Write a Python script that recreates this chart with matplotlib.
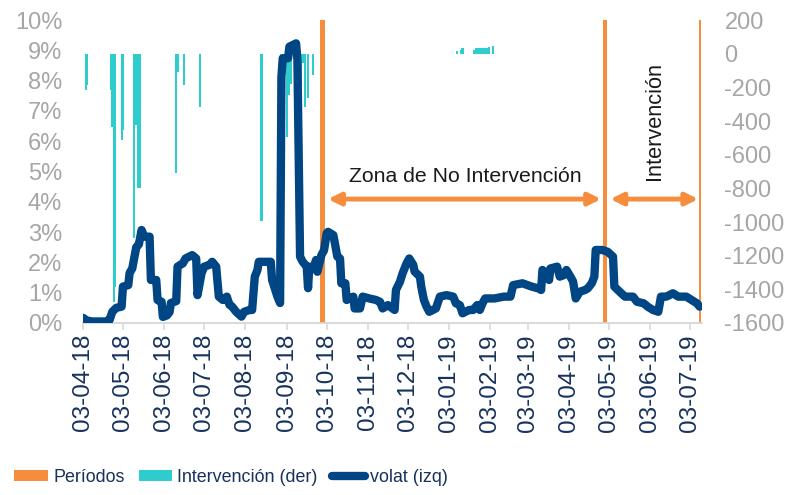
import numpy as np
import pandas as pd
import matplotlib
matplotlib.use("Agg")
from matplotlib import pyplot as plt
import matplotlib.dates as mdates
from matplotlib.patches import Patch
from matplotlib.lines import Line2D

plt.rcParams['font.family'] = ['Liberation Sans', 'DejaVu Sans']
plt.rcParams['axes.unicode_minus'] = False

# volatilidad (eje izquierdo, %)
vol_dates = ['2018-04-03', '2018-04-06', '2018-04-10', '2018-04-20', '2018-04-23', '2018-04-25',
             '2018-04-28', '2018-05-02', '2018-05-03', '2018-05-07', '2018-05-08', '2018-05-10',
             '2018-05-13', '2018-05-15', '2018-05-17', '2018-05-19', '2018-05-23', '2018-05-24',
             '2018-05-28', '2018-05-29', '2018-06-01', '2018-06-02', '2018-06-05', '2018-06-07',
             '2018-06-08', '2018-06-12', '2018-06-13', '2018-06-17', '2018-06-19', '2018-06-24',
             '2018-06-27', '2018-06-28', '2018-07-01', '2018-07-03', '2018-07-07', '2018-07-09',
             '2018-07-12', '2018-07-14', '2018-07-17', '2018-07-20', '2018-07-22', '2018-07-24',
             '2018-07-27', '2018-07-31', '2018-08-02', '2018-08-06', '2018-08-08', '2018-08-10',
             '2018-08-12', '2018-08-13', '2018-08-22', '2018-08-23', '2018-08-27', '2018-08-29',
             '2018-08-30', '2018-08-31', '2018-09-04', '2018-09-05', '2018-09-10', '2018-09-11',
             '2018-09-13', '2018-09-15', '2018-09-18', '2018-09-19', '2018-09-20', '2018-09-23',
             '2018-09-25', '2018-09-26', '2018-09-29', '2018-10-01', '2018-10-03', '2018-10-04',
             '2018-10-08', '2018-10-11', '2018-10-13', '2018-10-14', '2018-10-17', '2018-10-18',
             '2018-10-23', '2018-10-24', '2018-10-28', '2018-10-30', '2018-11-04', '2018-11-09',
             '2018-11-12', '2018-11-14', '2018-11-18', '2018-11-23', '2018-11-24', '2018-11-27',
             '2018-11-29', '2018-12-02', '2018-12-04', '2018-12-07', '2018-12-08', '2018-12-12',
             '2018-12-13', '2018-12-15', '2018-12-17', '2018-12-19', '2018-12-24', '2018-12-27',
             '2019-01-01', '2019-01-06', '2019-01-08', '2019-01-11', '2019-01-13', '2019-01-18',
             '2019-01-21', '2019-01-24', '2019-01-26', '2019-01-28', '2019-01-30', '2019-02-06',
             '2019-02-13', '2019-02-18', '2019-02-20', '2019-02-27', '2019-03-06', '2019-03-11',
             '2019-03-13', '2019-03-14', '2019-03-17', '2019-03-19', '2019-03-20', '2019-03-25',
             '2019-03-27', '2019-03-30', '2019-04-01', '2019-04-04', '2019-04-06', '2019-04-08',
             '2019-04-11', '2019-04-15', '2019-04-17', '2019-04-20', '2019-04-22', '2019-04-23',
             '2019-04-28', '2019-05-02', '2019-05-06', '2019-05-07', '2019-05-11', '2019-05-15',
             '2019-05-21', '2019-05-24', '2019-05-29', '2019-06-01', '2019-06-05', '2019-06-09',
             '2019-06-11', '2019-06-15', '2019-06-20', '2019-06-24', '2019-06-30', '2019-07-04',
             '2019-07-08', '2019-07-10']
vol_values = [0.17, 0.08, 0.05, 0.05, 0.10, 0.37,
              0.50, 0.54, 1.20, 1.25, 1.65, 1.80,
              2.50, 2.60, 3.07, 2.85, 2.85, 1.42,
              1.42, 0.76, 0.70, 0.20, 0.25, 0.36,
              0.66, 0.72, 1.86, 1.97, 2.13, 2.24,
              2.13, 0.92, 1.64, 1.86, 1.92, 2.02,
              1.86, 0.87, 0.76, 0.87, 0.60, 0.54,
              0.37, 0.21, 0.37, 0.43, 0.43, 1.53,
              1.75, 2.02, 2.02, 1.42, 0.87, 0.66,
              8.13, 8.74, 8.74, 9.12, 9.23, 8.70,
              2.19, 2.02, 1.86, 1.15, 1.86, 1.80,
              2.08, 1.69, 2.24, 2.40, 2.96, 3.01,
              2.90, 2.19, 2.13, 1.31, 1.31, 0.76,
              0.87, 0.48, 0.48, 0.87, 0.81, 0.76,
              0.70, 0.48, 0.59, 0.43, 1.09, 1.36,
              1.64, 1.97, 2.13, 1.92, 1.70, 1.53,
              1.20, 0.76, 0.54, 0.37, 0.48, 0.87,
              0.92, 0.87, 0.65, 0.59, 0.32, 0.43,
              0.43, 0.59, 0.43, 0.65, 0.81, 0.81,
              0.87, 0.87, 1.25, 1.31, 1.20, 1.14,
              1.09, 1.75, 1.64, 1.42, 1.80, 1.86,
              1.53, 1.58, 1.75, 1.53, 1.37, 0.81,
              1.03, 1.09, 1.14, 1.31, 1.53, 2.41,
              2.41, 2.35, 2.19, 1.20, 1.03, 0.87,
              0.87, 0.70, 0.65, 0.54, 0.43, 0.37,
              0.87, 0.87, 0.98, 0.87, 0.87, 0.76,
              0.65, 0.54]

# intervencion (eje derecho)
int_dates = ['2018-04-05', '2018-04-06', '2018-04-24', '2018-04-25', '2018-04-26', '2018-04-27',
             '2018-05-02', '2018-05-03', '2018-05-11', '2018-05-13', '2018-05-14', '2018-05-15',
             '2018-05-16', '2018-06-12', '2018-06-13', '2018-06-18', '2018-06-30', '2018-08-15',
             '2018-08-30', '2018-09-03', '2018-09-05', '2018-09-06', '2018-09-13', '2018-09-14',
             '2018-09-15', '2018-09-17', '2018-09-19', '2018-09-23',
             '2019-01-09', '2019-01-12', '2019-01-13', '2019-01-22', '2019-01-23', '2019-01-24',
             '2019-01-25', '2019-01-26', '2019-01-27', '2019-01-28', '2019-01-29', '2019-01-30',
             '2019-01-31', '2019-02-02', '2019-02-05']
int_values = [-216, -186, -216, -434, -1473, -1384,
              -513, -453, -1097, -424, -798, -798,
              -798, -709, -107, -186, -315, -992,
              -120, -493, -245, -180, -285, -285,
              -55, -315, -264, -127,
              15, 20, 34, 25, 32, 32,
              32, 32, 32, 32, 35, 35,
              35, 42, 48]

# periodos
per_dates = ['2018-09-30', '2019-04-30', '2019-07-10']
per_values = [10, 10, 10]
per_widths = [4, 3.2, 1.6]

tick_dates = ['2018-04-03', '2018-05-03', '2018-06-03', '2018-07-03', '2018-08-03', '2018-09-03',
              '2018-10-03', '2018-11-03', '2018-12-03', '2019-01-03', '2019-02-03', '2019-03-03',
              '2019-04-03', '2019-05-03', '2019-06-03', '2019-07-03']

orange = '#F68D3C'
cyan = '#2ECCCC'
navy = '#004584'
txt_navy = '#17325C'
grey = '#A6A6A6'

fig = plt.figure(figsize=(7.98, 4.95), dpi=100)
ax = fig.add_axes([0.104, 0.3475, 0.776, 0.612])
ax2 = ax.twinx()
ax.set_zorder(ax2.get_zorder() + 1)
ax.patch.set_visible(False)

ax2.bar(pd.to_datetime(int_dates), int_values, width=1.6, color=cyan, linewidth=0, zorder=1)
ax.bar(pd.to_datetime(per_dates), per_values, width=per_widths, color=orange, linewidth=0, zorder=2)
ax.plot(pd.to_datetime(vol_dates), vol_values, color=navy, lw=6,
        solid_joinstyle='round', solid_capstyle='round', zorder=3)

ax.set_xlim(pd.Timestamp('2018-04-03'), pd.Timestamp('2019-07-12'))
ax.set_ylim(0, 10)
ax2.set_ylim(-1600, 200)
ax.set_yticks(np.arange(0, 11, 1))
ax.set_yticklabels(['%d%%' % v for v in range(0, 11)])
ax2.set_yticks(np.arange(-1600, 201, 200))

ticks = pd.to_datetime(tick_dates)
ax.set_xticks(ticks)
ax.xaxis.set_major_formatter(mdates.DateFormatter('%d-%m-%y'))
for lbl in ax.get_xticklabels():
    lbl.set_rotation(90)

for a in (ax, ax2):
    for s in ('top', 'left', 'right'):
        a.spines[s].set_visible(False)
    a.spines['bottom'].set_color('#D9D9D9')
    a.spines['bottom'].set_linewidth(1.2)

ax.tick_params(axis='x', colors='#D9D9D9', length=5, width=1.2, labelcolor=txt_navy,
               labelsize=17.5, pad=3)
ax.tick_params(axis='y', length=0, labelcolor=grey, labelsize=17, pad=15)
ax2.tick_params(axis='y', length=0, labelcolor=grey, labelsize=17, pad=16)

# flechas y textos
ax.annotate('', xy=(pd.Timestamp('2019-04-27'), 4.09), xytext=(pd.Timestamp('2018-10-04'), 4.09),
            arrowprops=dict(arrowstyle='<|-|>', color=orange, lw=3.5, mutation_scale=18,
                            shrinkA=0, shrinkB=0))
ax.annotate('', xy=(pd.Timestamp('2019-07-09'), 4.09), xytext=(pd.Timestamp('2019-05-04'), 4.09),
            arrowprops=dict(arrowstyle='<|-|>', color=orange, lw=3.5, mutation_scale=18,
                            shrinkA=0, shrinkB=0))
ax.text(pd.Timestamp('2019-01-15'), 4.82, 'Zona de No Intervención', ha='center', va='center',
        fontsize=15.3, color='#1A1A1A')
ax.text(pd.Timestamp('2019-06-06'), 6.67, 'Intervención', ha='center', va='center',
        rotation=90, fontsize=15.7, color='#1A1A1A')

handles = [Patch(facecolor=orange, edgecolor='none'),
           Patch(facecolor=cyan, edgecolor='none'),
           Line2D([0], [0], color=navy, lw=6, solid_capstyle='round')]
labels = ['Períodos', 'Intervención (der)', 'volat (izq)']
fig.legend(handles, labels, loc='center', bbox_to_anchor=(0.29, 0.036), ncol=3, frameon=False,
           fontsize=12.9, labelcolor=txt_navy, handlelength=1.85, handleheight=0.6,
           handletextpad=0.3, columnspacing=0.8)

fig.savefig('out.png', dpi=100)
